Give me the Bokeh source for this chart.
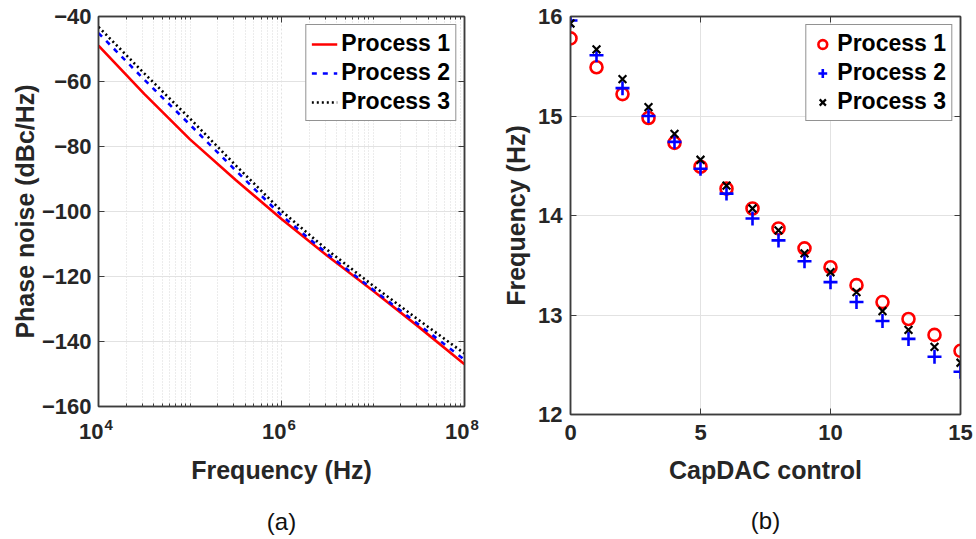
from bokeh.plotting import figure
from bokeh.models import (FixedTicker, Legend, LegendItem, Title, LinearAxis,
                          LogAxis, CustomJSTickFormatter, ColumnDataSource)
from bokeh.core.properties import value
from bokeh.layouts import row
from bokeh.embed import file_html
from bokeh.resources import INLINE

# ---------------- data: (a) phase noise ----------------
freq_hz = [1e4, 3.16e4, 1e5, 3.16e5, 1e6, 3.16e6, 1e7, 3.16e7, 1e8]
pn_process1 = [-49.0, -63.8, -77.8, -90.3, -102.3, -113.6, -124.4, -135.5, -147.0]
pn_process2 = [-45.1, -59.4, -73.3, -87.4, -101.2, -113.0, -124.0, -134.8, -145.6]
pn_process3 = [-43.2, -57.5, -71.4, -85.8, -99.8, -111.8, -122.8, -133.4, -143.7]

a_xticks = [1e4, 1e6, 1e8]
a_xtick_base = ["10", "10", "10"]
a_xtick_exp = ["4", "6", "8"]
a_yticks = [-160, -140, -120, -100, -80, -60, -40]

# ---------------- data: (b) frequency vs CapDAC ----------------
capdac = list(range(16))
f_process1 = [15.78, 15.49, 15.22, 14.98, 14.73, 14.49, 14.27, 14.07,
              13.87, 13.67, 13.48, 13.30, 13.13, 12.96, 12.80, 12.64]
f_process2 = [15.96, 15.61, 15.28, 15.00, 14.74, 14.47, 14.22, 13.97,
              13.75, 13.54, 13.33, 13.13, 12.94, 12.76, 12.58, 12.43]
f_process3 = [15.93, 15.67, 15.37, 15.09, 14.82, 14.56, 14.30, 14.07,
              13.85, 13.62, 13.43, 13.23, 13.04, 12.85, 12.68, 12.52]

b_xticks = [0, 5, 10, 15]
b_yticks = [12, 13, 14, 15, 16]

series_names = ["Process 1", "Process 2", "Process 3"]

# ---------------- styling ----------------
FONT = "Liberation Sans"
DARK = "#262626"
FRAME = "#3c3c3c"
GRID = "#e2e2e2"
TICK_FS = "22px"
LABEL_FS = "25px"


def style_axis(ax, label=None):
    ax.major_label_text_font = FONT
    ax.major_label_text_font_size = TICK_FS
    ax.major_label_text_font_style = "bold"
    ax.major_label_text_color = DARK
    ax.axis_line_color = FRAME
    ax.axis_line_width = 1.5
    ax.major_tick_line_color = FRAME
    ax.minor_tick_line_color = FRAME
    ax.major_tick_in = 6
    ax.major_tick_out = 0
    ax.minor_tick_in = 3
    ax.minor_tick_out = 0
    ax.major_label_standoff = 8
    if label is not None:
        ax.axis_label = label
        ax.axis_label_text_font = FONT
        ax.axis_label_text_font_size = LABEL_FS
        ax.axis_label_text_font_style = "bold"
        ax.axis_label_text_color = DARK
        ax.axis_label_standoff = 8


def mirror_axis(ax):
    ax.formatter = CustomJSTickFormatter(code="return ' ';")
    ax.major_label_text_font_size = "1px"
    ax.major_label_standoff = 0
    ax.axis_line_color = FRAME
    ax.axis_line_width = 1.5
    ax.major_tick_line_color = FRAME
    ax.minor_tick_line_color = FRAME
    ax.major_tick_in = 6
    ax.major_tick_out = 0
    ax.minor_tick_in = 3
    ax.minor_tick_out = 0


def style_legend(lg, glyph_w):
    lg.location = "top_right"
    lg.margin = 8
    lg.padding = 5
    lg.spacing = 2
    lg.glyph_height = 26
    lg.glyph_width = glyph_w
    lg.label_standoff = 4
    lg.label_text_font = FONT
    lg.label_text_font_size = "23px"
    lg.label_text_font_style = "bold"
    lg.label_text_color = "#000000"
    lg.border_line_color = DARK
    lg.border_line_width = 1
    lg.background_fill_alpha = 1.0


# ---------------- figure (a) ----------------
minor_a = []
for dec in [1e4, 1e5, 1e6, 1e7]:
    for k in range(1, 10):
        v = dec * k
        if v not in a_xticks:
            minor_a.append(v)

p1 = figure(frame_width=366, frame_height=390, x_axis_type="log",
            x_range=(a_xticks[0], a_xticks[-1]),
            y_range=(a_yticks[0], a_yticks[-1]),
            output_backend="svg", toolbar_location=None,
            min_border_left=98, min_border_right=16,
            min_border_top=16, min_border_bottom=0)
p1.outline_line_color = FRAME
p1.outline_line_width = 1.5
p1.background_fill_color = "white"
p1.border_fill_color = "white"

xt_a = FixedTicker(ticks=a_xticks, minor_ticks=minor_a)
yt_a = FixedTicker(ticks=a_yticks)
p1.xaxis.ticker = xt_a
p1.yaxis.ticker = yt_a
style_axis(p1.xaxis[0], "Frequency (Hz)")
style_axis(p1.yaxis[0], "Phase noise (dBc/Hz)")
# x tick texts are drawn as base + superscript; the axis keeps the space
p1.xaxis.formatter = CustomJSTickFormatter(code="return ' ';")
p1.xaxis.major_label_standoff = 14
p1.xaxis.axis_label_standoff = 7
p1.yaxis.minor_tick_in = 0
p1.yaxis.major_label_standoff = 7
p1.yaxis.axis_label_standoff = 0

tick_src = ColumnDataSource(dict(x=a_xticks,
                                 y=[a_yticks[0]] * len(a_xticks),
                                 base=a_xtick_base, exp=a_xtick_exp))
p1.text(x="x", y="y", text="base", source=tick_src, text_align="right",
        text_baseline="top", x_offset=5, y_offset=17,
        text_font=value(FONT), text_font_size="22px",
        text_font_style="bold", text_color=DARK, level="overlay")
p1.text(x="x", y="y", text="exp", source=tick_src, text_align="left",
        text_baseline="top", x_offset=6, y_offset=13,
        text_font=value(FONT), text_font_size="15px",
        text_font_style="bold", text_color=DARK, level="overlay")

top_a = LogAxis(ticker=FixedTicker(ticks=a_xticks, minor_ticks=minor_a))
mirror_axis(top_a)
p1.add_layout(top_a, "above")
right_a = LinearAxis(ticker=FixedTicker(ticks=a_yticks))
mirror_axis(right_a)
right_a.minor_tick_in = 0
p1.add_layout(right_a, "right")

p1.xgrid.ticker = xt_a
p1.xgrid.grid_line_color = GRID
p1.xgrid.grid_line_dash = "2 2"
p1.xgrid.minor_grid_line_color = "#d8d8d8"
p1.xgrid.minor_grid_line_dash = "1 2"
p1.ygrid.ticker = yt_a
p1.ygrid.grid_line_color = GRID

r1 = p1.line(freq_hz, pn_process1, line_color="#ff0000", line_width=2.6)
r2 = p1.line(freq_hz, pn_process2, line_color="#0000ff", line_width=2.6,
             line_dash="5 6")
r3 = p1.line(freq_hz, pn_process3, line_color="#000000", line_width=2.6,
             line_dash="2 3")

lg1 = Legend(items=[LegendItem(label=series_names[0], renderers=[r1]),
                    LegendItem(label=series_names[1], renderers=[r2]),
                    LegendItem(label=series_names[2], renderers=[r3])])
style_legend(lg1, 26)
p1.add_layout(lg1)

p1.add_layout(Title(text="(a)", align="center", text_font=FONT,
                    text_font_size="24px", text_font_style="normal",
                    text_color="#111111", standoff=38), "below")

# ---------------- figure (b) ----------------
p2 = figure(frame_width=390, frame_height=398,
            x_range=(b_xticks[0], b_xticks[-1]),
            y_range=(b_yticks[0], b_yticks[-1]),
            output_backend="svg", toolbar_location=None,
            min_border_left=90, min_border_right=16,
            min_border_top=16, min_border_bottom=0)
p2.outline_line_color = FRAME
p2.outline_line_width = 1.5
p2.background_fill_color = "white"
p2.border_fill_color = "white"

xt_b = FixedTicker(ticks=b_xticks)
yt_b = FixedTicker(ticks=b_yticks)
p2.xaxis.ticker = xt_b
p2.yaxis.ticker = yt_b
style_axis(p2.xaxis[0], "CapDAC control")
style_axis(p2.yaxis[0], "Frequency (Hz)")
p2.xaxis.minor_tick_in = 0
p2.yaxis.minor_tick_in = 0
p2.xaxis.major_label_standoff = 10
p2.xaxis.axis_label_standoff = 13
p2.yaxis.axis_label_standoff = 5

top_b = LinearAxis(ticker=FixedTicker(ticks=b_xticks))
mirror_axis(top_b)
top_b.minor_tick_in = 0
p2.add_layout(top_b, "above")
right_b = LinearAxis(ticker=FixedTicker(ticks=b_yticks))
mirror_axis(right_b)
right_b.minor_tick_in = 0
p2.add_layout(right_b, "right")

p2.xgrid.ticker = xt_b
p2.ygrid.ticker = yt_b
p2.xgrid.grid_line_color = GRID
p2.ygrid.grid_line_color = GRID

s1 = p2.scatter(capdac, f_process1, marker="circle", size=12,
                fill_color=None, line_color="#ff0000", line_width=2.6)
s2 = p2.scatter(capdac, f_process2, marker="cross", size=14,
                line_color="#0000ff", line_width=2.6)
s3 = p2.scatter(capdac, f_process3, marker="x", size=11,
                line_color="#000000", line_width=2.2)

lg2 = Legend(items=[LegendItem(label=series_names[0], renderers=[s1]),
                    LegendItem(label=series_names[1], renderers=[s2]),
                    LegendItem(label=series_names[2], renderers=[s3])])
style_legend(lg2, 22)
p2.add_layout(lg2)

p2.add_layout(Title(text="(b)", align="center", text_font=FONT,
                    text_font_size="24px", text_font_style="normal",
                    text_color="#111111", standoff=36), "below")

layout = row(p1, p2, spacing=0)
open("out.html", "w").write(file_html(layout, INLINE))
